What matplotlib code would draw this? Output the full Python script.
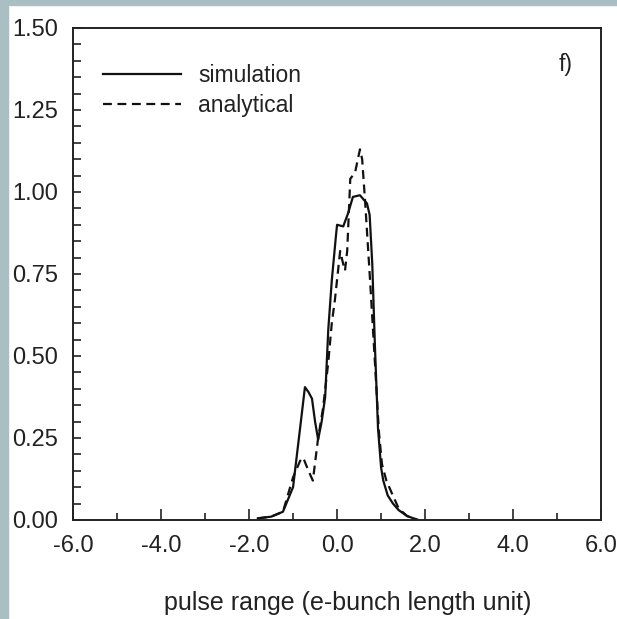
"""
Profil d'impulsion : simulation vs analytique (panneau f).
"""

import matplotlib
matplotlib.use("Agg")
import matplotlib.pyplot as plt
from matplotlib.patches import Rectangle
from matplotlib.ticker import MultipleLocator, FixedLocator

# courbe simulée
sim_x = [-1.80, -1.50, -1.23, -1.00, -0.84, -0.73, -0.65, -0.57, -0.50, -0.43,
         -0.35, -0.27, -0.20, -0.12, -0.03, 0.00, 0.14, 0.25, 0.36, 0.52,
         0.68, 0.74, 0.80, 0.86, 0.93, 1.00, 1.05, 1.15, 1.27, 1.40, 1.59, 1.84]
sim_y = [0.005, 0.010, 0.025, 0.10, 0.28, 0.405, 0.39, 0.37, 0.30, 0.245,
         0.30, 0.375, 0.58, 0.73, 0.86, 0.90, 0.895, 0.935, 0.985, 0.99,
         0.965, 0.93, 0.78, 0.53, 0.28, 0.16, 0.12, 0.075, 0.05, 0.03, 0.012, 0.0]

# courbe analytique
ana_x = [-1.80, -1.50, -1.23, -1.00, -0.84, -0.77, -0.65, -0.55, -0.43, -0.32,
         -0.20, -0.12, -0.05, 0.07, 0.14, 0.18, 0.23, 0.30, 0.41, 0.52,
         0.57, 0.64, 0.75, 0.86, 0.95, 1.02, 1.12, 1.25, 1.40, 1.59, 1.84]
ana_y = [0.005, 0.010, 0.025, 0.13, 0.18, 0.19, 0.15, 0.12, 0.25, 0.34,
         0.48, 0.60, 0.67, 0.82, 0.78, 0.76, 0.82, 1.04, 1.06, 1.13,
         1.10, 0.965, 0.73, 0.48, 0.27, 0.17, 0.12, 0.08, 0.035, 0.012, 0.0]

x_ticks = [-6.0, -4.0, -2.0, 0.0, 2.0, 4.0, 6.0]
y_ticks = [0.00, 0.25, 0.50, 0.75, 1.00, 1.25, 1.50]

plt.rcParams["font.family"] = ["Liberation Sans", "DejaVu Sans"]

fig = plt.figure(figsize=(6.17, 6.19), dpi=100)
ax = fig.add_axes([0.1183, 0.160, 0.856, 0.7948])

# bandeau gris-bleu (bords gauche et haut)
border = "#a9bfc4"
fig.patches.append(Rectangle((0, 0), 8 / 617, 1, transform=fig.transFigure,
                             color=border, zorder=0))
fig.patches.append(Rectangle((0, 1 - 5 / 619), 1, 5 / 619, transform=fig.transFigure,
                             color=border, zorder=0))

ax.plot(sim_x, sim_y, color="#111111", lw=1.6, label="simulation")
ax.plot(ana_x, ana_y, color="#111111", lw=1.6, ls=(0, (4, 2.5)), label="analytical")

ax.set_xlim(-6, 6)
ax.set_ylim(0, 1.5)
ax.xaxis.set_major_locator(FixedLocator(x_ticks))
ax.xaxis.set_minor_locator(MultipleLocator(1.0))
ax.yaxis.set_major_locator(FixedLocator(y_ticks))
ax.yaxis.set_minor_locator(MultipleLocator(0.05))
ax.set_xticklabels([f"{v:.1f}" for v in x_ticks])
ax.set_yticklabels([f"{v:.2f}" for v in y_ticks])

ax.tick_params(which="both", direction="in", top=False, right=False,
               width=1.2, colors="#222222", labelsize=17)
ax.tick_params(axis="x", which="major", length=8, pad=11)
ax.tick_params(axis="x", which="minor", length=5)
ax.tick_params(axis="y", which="major", length=6, pad=11)
ax.tick_params(axis="y", which="minor", length=6)
for s in ax.spines.values():
    s.set_linewidth(1.4)
    s.set_color("#222222")

leg = ax.legend(loc="upper left", bbox_to_anchor=(0.057, 0.927), frameon=False,
                fontsize=16.5, handlelength=3.4, handletextpad=0.75,
                labelspacing=0.32, borderpad=0, borderaxespad=0)
for t in leg.get_texts():
    t.set_color("#222222")

ax.text(0.932, 0.925, "f)", transform=ax.transAxes, fontsize=16.5,
        color="#222222", ha="center", va="center")

fig.text(347.5 / 617, 1 - 603 / 619, "pulse range (e-bunch length unit)",
         fontsize=18, color="#222222", ha="center", va="center")

fig.savefig("out.png", dpi=100)
